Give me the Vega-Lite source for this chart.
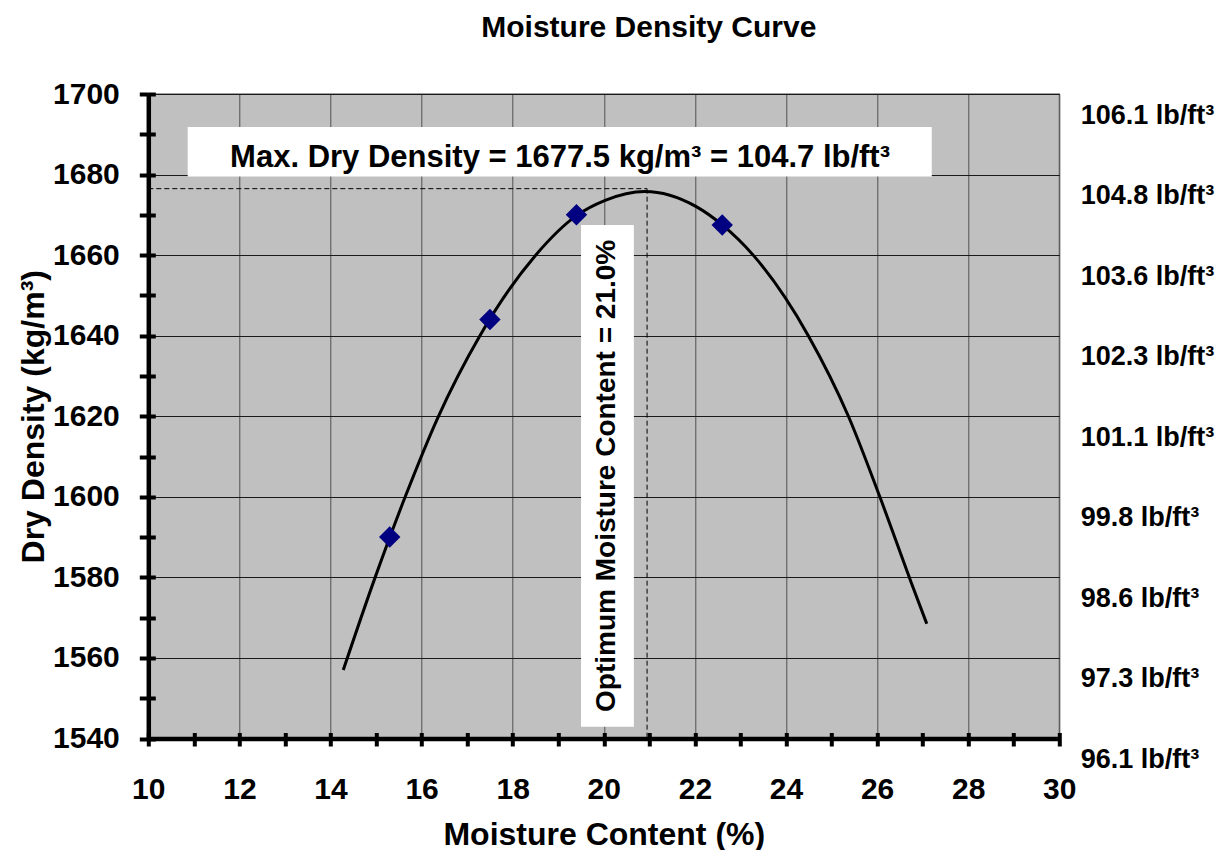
{
  "$schema": "https://vega.github.io/schema/vega-lite/v6.json",
  "width": 911,
  "height": 644.5,
  "autosize": {"type": "none"},
  "padding": {"left": 148.3, "top": 94, "right": 162.7, "bottom": 111.5},
  "background": "white",
  "title": {
    "text": "Moisture Density Curve",
    "font": "Liberation Sans",
    "fontSize": 30,
    "fontWeight": "bold",
    "color": "black",
    "anchor": "middle",
    "frame": "group",
    "dx": 45,
    "offset": 36
  },
  "config": {
    "view": {"fill": "#c0c0c0", "stroke": "#808080", "strokeWidth": 1.5},
    "font": "Liberation Sans"
  },
  "datasets": {
    "points": [
      {"moisture": 15.3, "density": 1590},
      {"moisture": 17.5, "density": 1644},
      {"moisture": 19.4, "density": 1670},
      {"moisture": 22.6, "density": 1667.5}
    ],
    "curve": [
      {"moisture": 14.28, "density": 1557.0},
      {"moisture": 14.98, "density": 1580},
      {"moisture": 15.64, "density": 1600},
      {"moisture": 16.35, "density": 1619.5},
      {"moisture": 17.28, "density": 1640},
      {"moisture": 18.49, "density": 1659.8},
      {"moisture": 19.4, "density": 1669.8},
      {"moisture": 20.03, "density": 1673.6},
      {"moisture": 20.9, "density": 1675.8},
      {"moisture": 22.02, "density": 1672.1},
      {"moisture": 22.6, "density": 1667.5},
      {"moisture": 23.28, "density": 1660},
      {"moisture": 24.49, "density": 1640},
      {"moisture": 25.37, "density": 1620},
      {"moisture": 26.06, "density": 1600},
      {"moisture": 26.74, "density": 1579},
      {"moisture": 27.09, "density": 1568.5}
    ],
    "guides": [
      {"x": 10, "x2": 20.95, "y": 1676.5, "y2": 1676.5},
      {"x": 20.95, "x2": 20.95, "y": 1676.5, "y2": 1540}
    ],
    "boxes": [
      {"x1": 10.865, "x2": 27.2, "y1": 1679.5, "y2": 1691.8},
      {"x1": 19.5, "x2": 20.66, "y1": 1542.9, "y2": 1667.5}
    ]
  },
  "layer": [
    {
      "data": {"name": "boxes"},
      "mark": {"type": "rect", "fill": "white", "strokeWidth": 0},
      "encoding": {
        "x": {
          "field": "x1", "type": "quantitative",
          "scale": {"domain": [10, 30], "nice": false, "zero": false},
          "axis": {
            "orient": "bottom",
            "title": "Moisture Content (%)",
            "titleFont": "Liberation Sans", "titleFontSize": 32, "titleFontWeight": "bold", "titleColor": "black",
            "titlePadding": 15,
            "values": [10,11,12,13,14,15,16,17,18,19,20,21,22,23,24,25,26,27,28,29,30],
            "labelExpr": "datum.value % 2 == 0 ? datum.label : ''",
            "labelFont": "Liberation Sans", "labelFontSize": 30, "labelFontWeight": "bold", "labelColor": "black",
            "labelPadding": 28, "labelFlush": false, "labelOverlap": false,
            "tickSize": 7.5, "tickWidth": 4, "tickColor": "black",
            "domainColor": "black", "domainWidth": 4.5,
            "grid": true, "gridColor": "#505050", "gridWidth": 1,
            "gridOpacity": {"condition": {"test": "datum.value % 2 != 0", "value": 0}, "value": 1}
          }
        },
        "x2": {"field": "x2"},
        "y": {
          "field": "y1", "type": "quantitative",
          "scale": {"domain": [1540, 1700], "nice": false, "zero": false},
          "axis": {
            "orient": "left",
            "title": "Dry Density (kg/m³)",
            "titleFont": "Liberation Sans", "titleFontSize": 32, "titleFontWeight": "bold", "titleColor": "black",
            "titlePadding": 2,
            "values": [1540,1550,1560,1570,1580,1590,1600,1610,1620,1630,1640,1650,1660,1670,1680,1690,1700],
            "format": "d",
            "labelExpr": "datum.value % 20 == 0 ? datum.label : ''",
            "labelFont": "Liberation Sans", "labelFontSize": 30, "labelFontWeight": "bold", "labelColor": "black",
            "labelPadding": 20, "labelFlush": false, "labelOverlap": false,
            "tickSize": 9, "tickWidth": 4, "tickColor": "black",
            "domainColor": "black", "domainWidth": 4.5,
            "grid": true, "gridColor": "#1a1a1a", "gridWidth": 1,
            "gridOpacity": {"condition": {"test": "datum.value % 20 != 0", "value": 0}, "value": 1}
          }
        },
        "y2": {"field": "y2"}
      }
    },
    {
      "data": {"name": "guides"},
      "mark": {"type": "rule", "color": "#000000", "strokeWidth": 1, "strokeDash": [5, 3]},
      "encoding": {
        "x": {
          "field": "x", "type": "quantitative",
          "scale": {"domain": [10, 30], "nice": false, "zero": false},
          "axis": {
            "orient": "bottom", "title": null, "labels": false, "domain": false, "grid": false,
            "values": [10,11,12,13,14,15,16,17,18,19,20,21,22,23,24,25,26,27,28,29,30],
            "tickSize": -6, "tickWidth": 4, "tickColor": "black"
          }
        },
        "x2": {"field": "x2"},
        "y": {
          "field": "y", "type": "quantitative",
          "scale": {"domain": [1540, 1700], "nice": false, "zero": false},
          "axis": {
            "orient": "left", "title": null, "labels": false, "domain": false, "grid": false,
            "values": [1540,1550,1560,1570,1580,1590,1600,1610,1620,1630,1640,1650,1660,1670,1680,1690,1700],
            "tickSize": -7, "tickWidth": 4, "tickColor": "black"
          }
        },
        "y2": {"field": "y2"}
      }
    },
    {
      "data": {"name": "curve"},
      "mark": {"type": "line", "color": "black", "strokeWidth": 3, "interpolate": "monotone"},
      "encoding": {
        "x": {"field": "moisture", "type": "quantitative", "scale": {"domain": [10, 30], "nice": false, "zero": false}, "axis": null},
        "y": {
          "field": "density", "type": "quantitative",
          "scale": {"domain": [1540, 1700], "nice": false, "zero": false},
          "axis": {
            "orient": "right", "title": null, "domain": false, "ticks": false, "tickSize": 0, "grid": false,
            "values": [1540,1560,1580,1600,1620,1640,1660,1680,1700],
            "labelExpr": "format(floor(datum.value * 0.062428 * 10) / 10, '.1f') + ' lb/ft³'",
            "labelFont": "Liberation Sans", "labelFontSize": 27, "labelFontWeight": "bold", "labelColor": "black",
            "labelPadding": 21, "labelOffset": 21, "labelAlign": "left", "labelFlush": false, "labelOverlap": false
          }
        }
      }
    },
    {
      "data": {"name": "points"},
      "mark": {"type": "point", "shape": "diamond", "filled": true, "color": "#000080", "size": 460, "opacity": 1},
      "encoding": {
        "x": {"field": "moisture", "type": "quantitative", "scale": {"domain": [10, 30], "nice": false, "zero": false}, "axis": null},
        "y": {"field": "density", "type": "quantitative", "scale": {"domain": [1540, 1700], "nice": false, "zero": false}, "axis": null}
      }
    },
    {
      "data": {"values": [{"x": 19.04, "y": 1684.2, "label": "Max. Dry Density = 1677.5 kg/m³ = 104.7 lb/ft³"}]},
      "mark": {"type": "text", "font": "Liberation Sans", "fontSize": 31, "fontWeight": "bold", "color": "black", "align": "center", "baseline": "middle"},
      "encoding": {
        "x": {"field": "x", "type": "quantitative", "scale": {"domain": [10, 30], "nice": false, "zero": false}, "axis": null},
        "y": {"field": "y", "type": "quantitative", "scale": {"domain": [1540, 1700], "nice": false, "zero": false}, "axis": null},
        "text": {"field": "label"}
      }
    },
    {
      "data": {"values": [{"x": 20.08, "y": 1605.2, "label": "Optimum Moisture Content = 21.0%"}]},
      "mark": {"type": "text", "font": "Liberation Sans", "fontSize": 28, "fontWeight": "bold", "color": "black", "align": "center", "baseline": "middle", "angle": 270},
      "encoding": {
        "x": {"field": "x", "type": "quantitative", "scale": {"domain": [10, 30], "nice": false, "zero": false}, "axis": null},
        "y": {"field": "y", "type": "quantitative", "scale": {"domain": [1540, 1700], "nice": false, "zero": false}, "axis": null},
        "text": {"field": "label"}
      }
    }
  ],
  "resolve": {"axis": {"x": "independent", "y": "independent"}}
}
